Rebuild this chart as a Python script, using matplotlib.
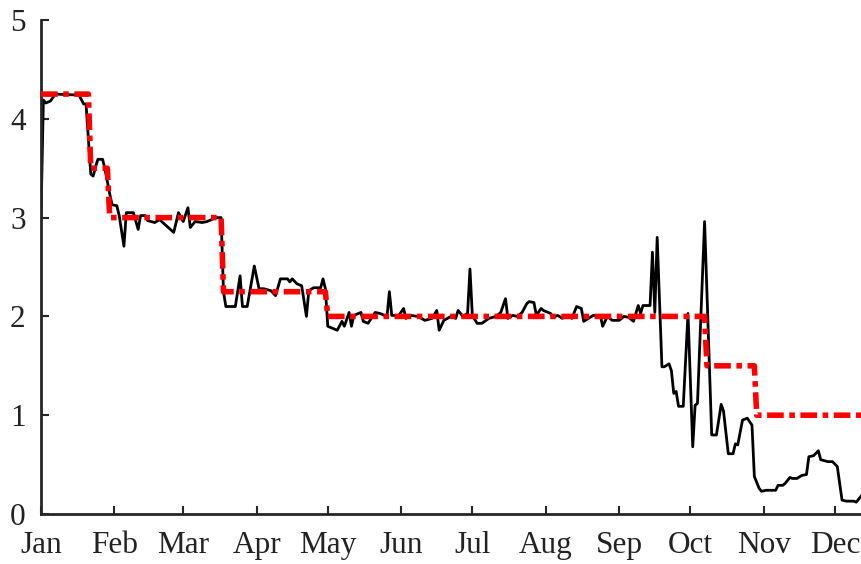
import matplotlib
matplotlib.use('Agg')
import matplotlib.pyplot as plt
import numpy as np

# day of year (0 = Jan 1) and value of the black daily series
rate_days = [0, 1, 2, 4, 6, 16, 18, 19, 21, 22, 23, 24, 26, 27, 29, 30, 32, 33, 35, 36,
             39, 41, 42, 44, 45, 48, 50, 56, 58, 60, 62, 63, 65, 68, 70, 74, 76, 77, 78, 80,
             82, 84, 85, 87, 90, 92, 94, 97, 99, 101, 104, 105, 106, 108, 110, 112, 113, 115, 118, 119,
             120, 121, 123, 125, 127, 128, 130, 131, 132, 135, 136, 138, 141, 143, 146, 147, 148, 151, 153, 154,
             156, 159, 162, 165, 167, 168, 170, 173, 175, 176, 178, 180, 181, 182, 184, 186, 189, 192, 194, 196,
             197, 199, 201, 203, 205, 206, 208, 209, 211, 212, 215, 216, 218, 220, 222, 224, 226, 228, 229, 231,
             233, 236, 237, 239, 241, 244, 246, 248, 250, 252, 253, 254, 255, 257, 258, 259, 260, 262, 263, 265,
             266, 267, 268, 269, 271, 273, 275, 276, 277, 280, 283, 285, 287, 288, 290, 292, 293, 294, 296, 298,
             300, 301, 303, 304, 306, 310, 311, 313, 314, 316, 317, 319, 321, 323, 324, 326, 328, 329, 332, 334,
             336, 338, 340, 343, 344, 346]
rate_vals = [3.00, 4.19, 4.16, 4.18, 4.25, 4.24, 4.15, 4.15, 3.44, 3.42, 3.51, 3.59, 3.59, 3.49, 3.24, 3.13, 3.12, 3.02, 2.71, 3.05,
             3.05, 2.88, 3.02, 3.02, 2.97, 2.95, 2.98, 2.85, 3.05, 2.96, 3.10, 2.90, 2.96, 2.95, 2.96, 3.00, 3.00, 2.25, 2.10, 2.10,
             2.10, 2.41, 2.10, 2.10, 2.51, 2.28, 2.28, 2.26, 2.21, 2.38, 2.38, 2.35, 2.38, 2.33, 2.31, 2.00, 2.26, 2.29, 2.29, 2.38,
             2.28, 1.90, 1.88, 1.86, 1.95, 1.90, 2.04, 1.90, 2.01, 2.04, 1.95, 1.93, 2.04, 2.03, 2.00, 2.25, 2.01, 2.01, 2.08, 1.98,
             2.01, 2.00, 1.96, 1.98, 2.06, 1.86, 1.96, 2.00, 1.98, 2.06, 2.00, 2.03, 2.48, 2.01, 1.93, 1.93, 1.98, 2.00, 2.04, 2.18,
             1.98, 2.01, 2.00, 2.04, 2.13, 2.15, 2.14, 2.01, 2.08, 2.06, 2.03, 1.99, 2.01, 1.98, 2.01, 1.98, 2.10, 2.08, 1.95, 1.98,
             2.01, 2.01, 1.90, 2.00, 1.96, 1.96, 2.00, 1.99, 1.95, 2.11, 2.03, 2.11, 2.11, 2.11, 2.65, 2.04, 2.80, 1.49, 1.49, 1.52,
             1.45, 1.22, 1.24, 1.09, 1.09, 2.03, 0.68, 1.10, 1.12, 2.96, 0.80, 0.80, 1.11, 1.04, 0.61, 0.61, 0.71, 0.70, 0.95, 0.97,
             0.90, 0.38, 0.26, 0.23, 0.24, 0.24, 0.29, 0.29, 0.31, 0.37, 0.36, 0.36, 0.39, 0.40, 0.58, 0.59, 0.64, 0.55, 0.53, 0.53,
             0.48, 0.14, 0.13, 0.13, 0.12, 0.18]

# red step series (target level)
target_days = [0, 20, 21, 28, 29, 76, 77, 120, 121, 280, 281, 301, 302, 346]
target_vals = [4.25, 4.25, 3.5, 3.5, 3.0, 3.0, 2.25, 2.25, 2.0, 2.0, 1.5, 1.5, 1.0, 1.0]

months = ['Jan', 'Feb', 'Mar', 'Apr', 'May', 'Jun', 'Jul', 'Aug', 'Sep', 'Oct', 'Nov', 'Dec']
month_starts = [0, 31, 60, 91, 121, 152, 182, 213, 244, 274, 305, 335]

plt.rcParams['font.family'] = ['Liberation Serif', 'DejaVu Serif']

fig = plt.figure(figsize=(8.61, 5.64), dpi=100)
ax = fig.add_axes([41/861, 50/564, 820/861, 494/564])

ax.plot(rate_days, rate_vals, color='black', lw=2.0, zorder=2)
ax.plot(target_days, target_vals, color='red', lw=4.0, dashes=(3, 1, 1, 1),
        dash_capstyle='butt', zorder=3)

ax.set_xlim(0, 346)
ax.set_ylim(0, 5)
ax.set_xticks(month_starts)
ax.set_xticklabels(months)
ax.set_yticks(range(6))

for s in ['top', 'right']:
    ax.spines[s].set_visible(False)
for s in ['left', 'bottom']:
    ax.spines[s].set_linewidth(2)
    ax.spines[s].set_color('#262626')

ax.tick_params(direction='in', length=6, width=1.5, color='#262626',
               labelsize=22.5, labelcolor='#222222')
ax.tick_params(axis='x', pad=12)
ax.tick_params(axis='y', pad=11)

fig.savefig('out.png', dpi=100)
